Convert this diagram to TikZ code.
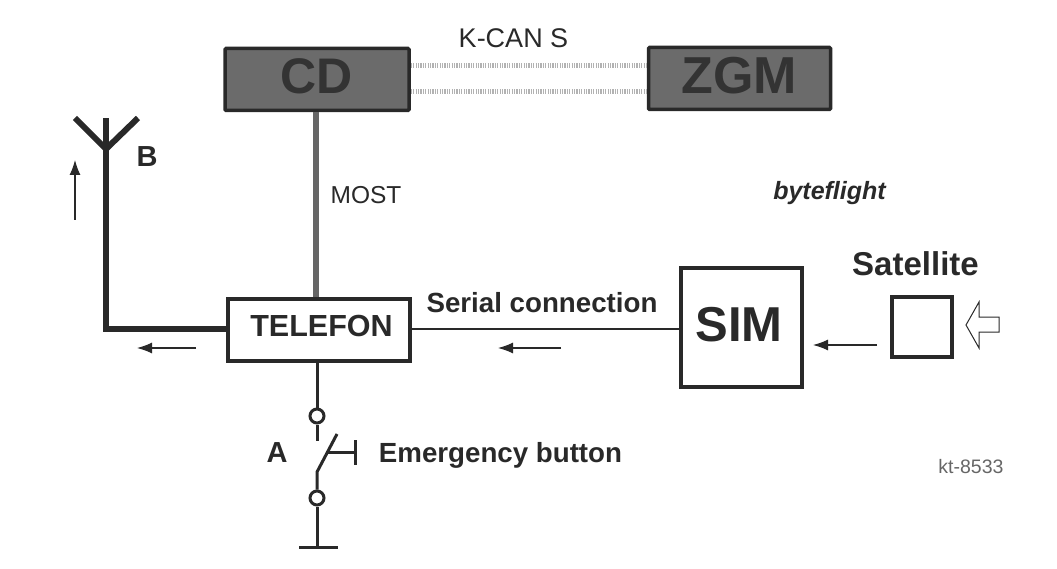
\documentclass[tikz,border=0pt]{standalone}
\usepackage{fontspec}
\setmainfont{Liberation Sans}
\usetikzlibrary{arrows.meta,patterns}
\definecolor{ink}{gray}{0.16}
\definecolor{darkfill}{gray}{0.42}
\tikzset{
  x=1pt,y=-1pt,
  darkbox/.style={draw=ink,line width=3.5pt,fill=darkfill,inner sep=0pt,rounded corners=1pt},
  darktext/.style={inner sep=0pt,text=black!80,font=\bfseries\fontsize{50}{50}\selectfont},
  plainbox/.style={draw=ink,line width=4pt,fill=white,inner sep=0pt},
  lbl/.style={text=ink,inner sep=0pt},
  bigbold/.style={lbl,font=\bfseries\fontsize{27.7}{28}\selectfont},
  flow/.style={draw=ink,line width=1.2pt,-{Latex[length=15pt,width=11pt]}},
  wire/.style={draw=ink,line width=3pt},
  thick wire/.style={draw=ink,line width=6pt},
  bus/.style={draw=black!30,line width=5pt,dash pattern=on 1.2pt off 1.2pt},
  contact/.style={circle,draw=ink,line width=3pt,fill=white,minimum size=14pt,inner sep=0pt}
}
\begin{document}
\begin{tikzpicture}
\useasboundingbox (0,0) rectangle (1057,569);
% boxes
\node[darkbox,minimum width=184pt,minimum height=62pt] (cd) at (317,79.5) {};
\node[darktext] (cdtext) at (317,76) {CD};
\node[darkbox,minimum width=182pt,minimum height=62pt] (zgm) at (739.5,78.5) {};
\node[darktext,font=\bfseries\fontsize{52}{52}\selectfont] (zgmtext) at (739,76) {ZGM};
\node[plainbox,minimum width=182pt,minimum height=62pt] (tel) at (319,329.5) {};
\node[lbl,font=\bfseries\fontsize{30.5}{30}\selectfont] (teltext) at (321.5,326) {TELEFON};
\node[plainbox,minimum width=121pt,minimum height=119pt] (sim) at (741.5,327.5) {};
\node[lbl,font=\bfseries\fontsize{49}{49}\selectfont] (simtext) at (739,325) {SIM};
\node[plainbox,minimum width=60pt,minimum height=60pt] (sat) at (922,327) {};
% buses
\coordinate (cdA) at (cd.east |- 0,66);\coordinate (zgmA) at (zgm.west |- 0,66);
\coordinate (cdB) at (cd.east |- 0,92);\coordinate (zgmB) at (zgm.west |- 0,92);
\draw[bus] (cdA) -- (zgmA);
\draw[bus] (cdB) -- (zgmB);
% MOST
\draw[draw=black!60,line width=5.5pt] (cd.south -| 316,0) -- (tel.north -| 316,0);
% serial
\draw[draw=ink,line width=2.5pt] (tel.east |- 0,329) -- (sim.west |- 0,329);
% antenna
\coordinate (antTop) at (106,118);
\coordinate (antJ) at (106,149);
\coordinate (antL) at (75,118);
\coordinate (antR) at (138,118);
\coordinate (antC) at (106,329);
\draw[thick wire,line join=miter] (tel.west |- 0,329) -- (antC) -- (antTop);
\draw[thick wire] (antL) -- (antJ) -- (antR);
% switch
\node[contact] (c1) at (317,416) {};
\node[contact] (c2) at (317,498) {};
\coordinate (s1) at (317,441);
\coordinate (s2) at (317,472);
\coordinate (s3) at (337,434);
\coordinate (b1) at (328,452);
\coordinate (b2) at (355,452);
\coordinate (b3) at (355,440);
\coordinate (b4) at (355,465);
\coordinate (gnd) at (317,547);
\coordinate (g1) at (299,547);
\coordinate (g2) at (338,547);
\draw[wire] (tel.south -| 317,0) -- (c1);
\draw[wire] (c1) -- (s1);
\draw[wire] (c2) -- (s2) -- (s3);
\draw[wire] (b1) -- (b2);
\draw[wire] (b3) -- (b4);
\draw[wire] (c2) -- (gnd);
\draw[wire] (g1) -- (g2);
% flow arrows
\coordinate (f1a) at (75,220);\coordinate (f1b) at (75,160);
\coordinate (f2a) at (196,348);\coordinate (f2b) at (137,348);
\coordinate (f3a) at (561,348);\coordinate (f3b) at (498,348);
\coordinate (f4a) at (877,345);\coordinate (f4b) at (813,345);
\draw[flow] (f1a) -- (f1b);
\draw[flow] (f2a) -- (f2b);
\draw[flow] (f3a) -- (f3b);
\draw[flow] (f4a) -- (f4b);
% hollow arrow
\draw[draw=ink,line width=1pt,line join=miter] (966,325) -- (979,302) -- (979,317) -- (999,317) -- (999,332) -- (979,332) -- (979,348) -- cycle;
% labels
\node[lbl,font=\fontsize{27}{27}\selectfont] (kcan) at (513.5,38) {K-CAN S};
\node[lbl,font=\fontsize{24.5}{25}\selectfont] (most) at (366,195) {MOST};
\node[lbl,font=\bfseries\itshape\fontsize{25}{25}\selectfont] (byte) at (829.5,193) {byteflight};
\node[bigbold] (serial) at (542,303) {Serial connection};
\node[lbl,font=\bfseries\fontsize{33}{33}\selectfont] (sat2) at (915.5,264) {Satellite};
\node[bigbold] (emer) at (500.5,455) {Emergency button};
\node[lbl,font=\bfseries\fontsize{29}{29}\selectfont] (a) at (277,453) {A};
\node[lbl,font=\bfseries\fontsize{29}{29}\selectfont] (b) at (147,157) {B};
\node[lbl,text=black!60,font=\fontsize{19.5}{20}\selectfont] (kt) at (971,467) {kt-8533};
\end{tikzpicture}
\end{document}
